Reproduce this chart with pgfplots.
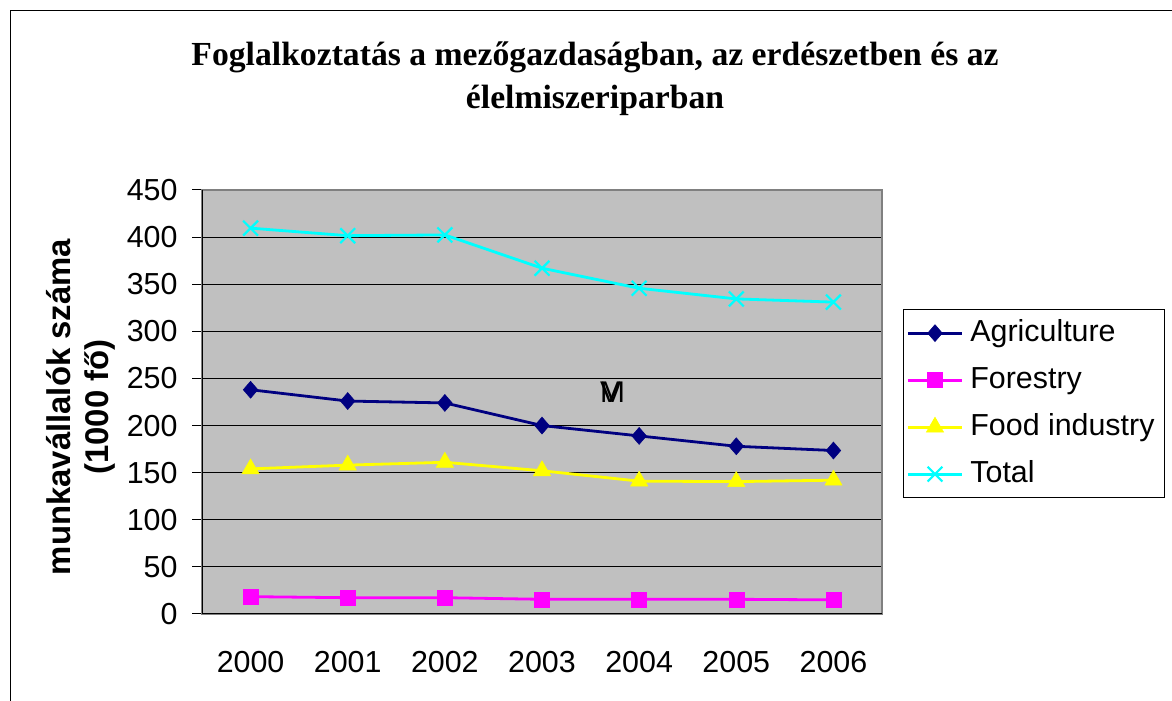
\documentclass[border=0pt]{standalone}
\usepackage{fontspec}
\setmainfont{Liberation Sans}
\newfontfamily\titlefont{Liberation Serif}
\usepackage{pgfplots}
\pgfplotsset{compat=1.18}
\definecolor{agri}{RGB}{0,0,128}
\definecolor{fore}{RGB}{255,0,255}
\definecolor{food}{RGB}{255,255,0}
\definecolor{tot}{RGB}{0,255,255}
\definecolor{plotbg}{RGB}{192,192,192}
\begin{document}
\begin{tikzpicture}[x=1bp,y=1bp]
\useasboundingbox (0,0) rectangle (1172,701);
\draw[line width=1.2bp] (10.5,-10) -- (10.5,690.5) -- (1190,690.5);
\node[align=center, font=\titlefont\bfseries\fontsize{33.8}{43}\selectfont] at (595,622) {Foglalkoztatás a mezőgazdaságban, az erdészetben és az\\élelmiszeriparban};
\node[rotate=90, align=center, font=\bfseries\fontsize{33}{38}\selectfont] at (81,294) {munkavállalók száma\\(1000 fő)};
\begin{axis}[
  at={(202bp,87bp)}, anchor=south west,
  width=680bp, height=424bp, scale only axis,
  xmin=-0.5, xmax=6.5, ymin=0, ymax=450,
  xtick={0,...,6},
  xticklabels={2000,2001,2002,2003,2004,2005,2006},
  ytick={0,50,...,450},
  xtick pos=bottom, ytick pos=left,
  x tick style={draw=none},
  extra x ticks={-0.5,0.5,1.5,2.5,3.5,4.5,5.5,6.5},
  extra x tick labels={},
  extra x tick style={grid=none, tick style={draw=black, line width=1bp}, major tick length=10bp, tick align=outside},
  y tick style={draw=black, line width=1bp},
  tick align=outside, major tick length=10bp,
  ymajorgrids, grid style={black, line width=1bp},
  axis background/.style={fill=plotbg},
  axis line style={draw=gray, line width=1.5bp},
  ticklabel style={font=\fontsize{30.5}{36}\selectfont},
  /pgf/number format/assume math mode=true,
  xticklabel style={yshift=-24bp},
  yticklabel style={xshift=-11bp},
  legend style={at={(1.031,0.719)}, anchor=north west, draw=black, line width=1bp, fill=white,
    font=\fontsize{30.5}{36}\selectfont, inner xsep=3bp, inner ysep=0bp,
    nodes={text height=22bp, text depth=6bp, inner ysep=9.5bp, inner xsep=7bp}},
  legend cell align=left,
  legend image code/.code={\draw[#1, mark repeat=2, mark phase=2] plot coordinates {(0bp,0bp) (27bp,0bp) (54bp,0bp)};},
]
\addplot[agri, line width=2.8bp, mark=diamond*, mark size=8.5bp, mark options={solid, line width=0.5bp, xscale=1.15}] coordinates {(0,238) (1,226) (2,224) (3,200) (4,189) (5,178) (6,173.5)};
\addlegendentry{Agriculture}
\addplot[fore, line width=2.8bp, mark=square*, mark size=7.5bp, mark options={solid, line width=0.5bp}] coordinates {(0,18.4) (1,17.3) (2,17.3) (3,15.6) (4,15.6) (5,15.6) (6,15)};
\addlegendentry{Forestry}
\addplot[food, line width=2.8bp, mark=triangle*, mark size=10bp, mark options={solid, line width=0.5bp}] coordinates {(0,154) (1,158) (2,161) (3,152) (4,141) (5,140.5) (6,142)};
\addlegendentry{Food industry}
\addplot[tot, line width=2.8bp, mark=x, mark size=10.5bp, mark options={solid, line width=2.2bp}] coordinates {(0,409.5) (1,401.5) (2,402.3) (3,367) (4,345.7) (5,334.4) (6,331)};
\addlegendentry{Total}
\draw[black, line width=1.5bp] (rel axis cs:0,1) -- (rel axis cs:0,0) -- (rel axis cs:1,0);
\node[font=\fontsize{30}{36}\selectfont] at (axis cs:3.7,235) {\rlap{M}V};
\end{axis}
\end{tikzpicture}
\end{document}
